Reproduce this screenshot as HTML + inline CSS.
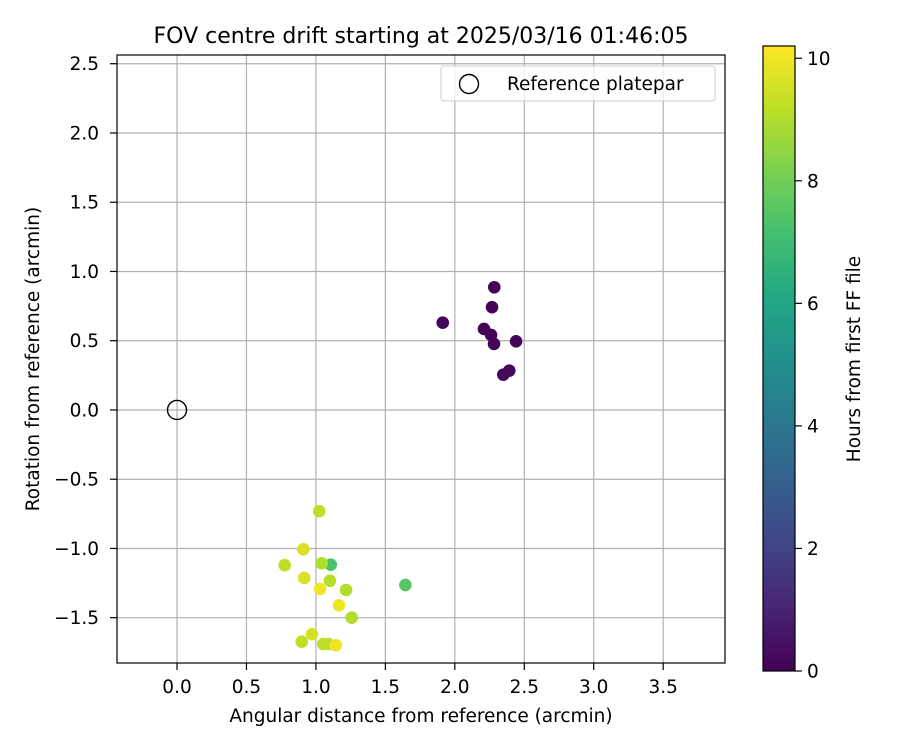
<!DOCTYPE html>
<html><head><meta charset="utf-8"><style>
body{margin:0;background:#fff;}
svg text{font-family:"DejaVu Sans","Liberation Sans",sans-serif;fill:#000;}
</style></head><body>
<svg id="chart" width="900" height="750" xmlns="http://www.w3.org/2000/svg">
<defs>
<linearGradient id="vir" x1="0" y1="1" x2="0" y2="0">
<stop offset="0" stop-color="#440154"/><stop offset="0.1" stop-color="#482475"/>
<stop offset="0.2" stop-color="#414487"/><stop offset="0.3" stop-color="#355f8d"/>
<stop offset="0.4" stop-color="#2a788e"/><stop offset="0.5" stop-color="#21918c"/>
<stop offset="0.6" stop-color="#22a884"/><stop offset="0.7" stop-color="#44bf70"/>
<stop offset="0.8" stop-color="#7ad151"/><stop offset="0.9" stop-color="#bddf26"/>
<stop offset="1" stop-color="#fde725"/>
</linearGradient>
</defs>
<g id="grid"></g>
<g id="points"></g>
<g id="axes"></g>
</svg>
<script>
const xs = [2.284,2.268,1.913,2.210,2.261,2.282,2.441,2.349,2.392,
 1.024,0.909,0.775,1.107,1.042,0.916,1.101,1.030,1.217,1.166,1.258,0.972,0.898,1.053,1.089,1.143,1.644];
const ys = [0.886,0.742,0.630,0.585,0.542,0.477,0.496,0.255,0.284,
 -0.731,-1.006,-1.121,-1.117,-1.107,-1.213,-1.233,-1.292,-1.300,-1.410,-1.500,-1.619,-1.673,-1.690,-1.690,-1.699,-1.264];
const hours = [0.1,0.1,0.1,0.1,0.1,0.1,0.1,0.2,0.2,
 9.2,9.6,9.2,7.3,9.0,9.6,9.1,10.0,9.0,10.0,9.0,9.5,9.2,9.2,9.2,10.0,7.5];
const xTicks = [0.0,0.5,1.0,1.5,2.0,2.5,3.0,3.5];
const yTicks = [-1.5,-1.0,-0.5,0.0,0.5,1.0,1.5,2.0,2.5];
const cTicks = [0,2,4,6,8,10];

const L=117,R=725,T=55,B=663;
const xMin=-0.432,xMax=3.945,yMin=-1.827,yMax=2.563;
const cMax=10.2, cbX=763, cbW=32, cbT=46, cbB=671;
const sx=v=>L+(v-xMin)/(xMax-xMin)*(R-L);
const sy=v=>B-(v-yMin)/(yMax-yMin)*(B-T);
const sc=v=>cbB-v/cMax*(cbB-cbT);
const NS="http://www.w3.org/2000/svg";
const FS=18.5;
const stops=["#440154","#482475","#414487","#355f8d","#2a788e","#21918c","#22a884","#44bf70","#7ad151","#bddf26","#fde725"];
function hex(h){return [1,3,5].map(i=>parseInt(h.substr(i,2),16));}
function viridis(v){let t=Math.max(0,Math.min(1,v/cMax))*10;let i=Math.min(9,Math.floor(t));let f=t-i;
 const a=hex(stops[i]),b=hex(stops[i+1]);return "rgb("+a.map((c,k)=>Math.round(c+(b[k]-c)*f)).join(",")+")";}
function mk(tag,attrs,parent,txt){const e=document.createElementNS(NS,tag);for(const k in attrs)e.setAttribute(k,attrs[k]);if(txt!==undefined)e.textContent=txt;parent.appendChild(e);return e;}
const grid=document.getElementById('grid'),pts=document.getElementById('points'),ax=document.getElementById('axes');
const fmt=v=>(v<0?"\u2212":"")+Math.abs(v).toFixed(1);

xTicks.forEach(v=>{const x=sx(v);
 const g=mk('line',{x1:x,x2:x,y1:T,y2:B,stroke:'#b0b0b0','stroke-width':1.2},grid);
 
 
 mk('line',{x1:x,x2:x,y1:B,y2:B+7,stroke:'#000','stroke-width':1.2},ax);
 const t=mk('text',{x:x,y:693,'text-anchor':'middle',style:'font-size:'+FS+'px'},ax,fmt(v));
 
 
});
yTicks.forEach(v=>{const y=sy(v);
 const g=mk('line',{x1:L,x2:R,y1:y,y2:y,stroke:'#b0b0b0','stroke-width':1.2},grid);
 
 
 mk('line',{x1:L-7,x2:L,y1:y,y2:y,stroke:'#000','stroke-width':1.2},ax);
 const t=mk('text',{x:L-18,y:y+6.5,'text-anchor':'end',style:'font-size:'+FS+'px'},ax,fmt(v));
 
 
});
xs.forEach((v,i)=>{
 const c=mk('circle',{cx:sx(v),cy:sy(ys[i]),r:6.3,fill:viridis(hours[i])},pts);
 
 
});
const ref=mk('circle',{cx:sx(0),cy:sy(0),r:9.5,fill:'none',stroke:'#000','stroke-width':1.4},pts);



const frame=mk('rect',{x:L,y:T,width:R-L,height:B-T,fill:'none',stroke:'#000','stroke-width':1.2},ax);


const title=mk('text',{x:421,y:43,'text-anchor':'middle',style:'font-size:22px'},ax,'FOV centre drift starting at 2025/03/16 01:46:05');


const xl=mk('text',{x:421,y:722,'text-anchor':'middle',style:'font-size:'+FS+'px'},ax,'Angular distance from reference (arcmin)');


const yl=mk('text',{x:0,y:0,'text-anchor':'middle',style:'font-size:'+FS+'px',transform:'translate(39,359) rotate(-90)'},ax,'Rotation from reference (arcmin)');



const leg=mk('rect',{x:441,y:66,width:274,height:35,rx:3,fill:'#fff','fill-opacity':0.8,stroke:'#ccc'},ax);


mk('circle',{cx:469,cy:84,r:9.5,fill:'none',stroke:'#000','stroke-width':1.4},ax);
const lt=mk('text',{x:507,y:90,style:'font-size:'+FS+'px'},ax,'Reference platepar');



const cb=mk('rect',{x:cbX,y:cbT,width:cbW,height:cbB-cbT,fill:'url(#vir)',stroke:'#000','stroke-width':1.2},ax);


cTicks.forEach(v=>{const y=sc(v);
 mk('line',{x1:cbX+cbW,x2:cbX+cbW+7,y1:y,y2:y,stroke:'#000','stroke-width':1.2},ax);
 const t=mk('text',{x:cbX+cbW+12,y:y+6.5,style:'font-size:'+FS+'px'},ax,String(v));
 
 
});
const cl=mk('text',{x:0,y:0,'text-anchor':'middle',style:'font-size:'+FS+'px',transform:'translate(860,359) rotate(-90)'},ax,'Hours from first FF file');


</script>
</body></html>
